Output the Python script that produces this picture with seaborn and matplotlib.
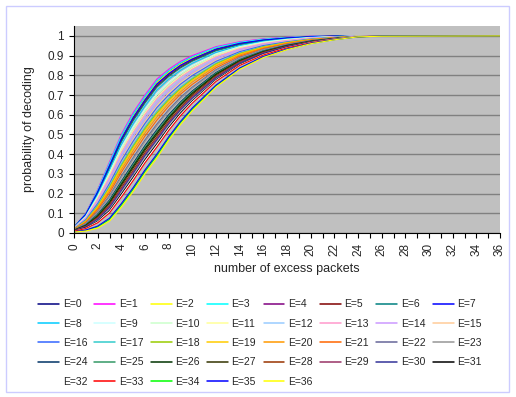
import pandas as pd
import matplotlib
matplotlib.use("Agg")
import matplotlib.pyplot as plt
from matplotlib.patches import Rectangle
import seaborn as sns

# number of excess packets (shared x grid)
excess = [0, 1, 2, 3, 4, 5, 6, 7, 8, 9, 10, 12, 14, 16, 18, 20, 22, 24, 26, 36]

# probability of decoding, one series per E
prob = {
    0:  [.029, .097, .214, .351, .489, .598, .688, .768, .819, .860, .892, .939, .966, .982, .991, .997, .999, 1, 1, 1],
    1:  [.030, .100, .220, .360, .500, .610, .700, .780, .830, .870, .900, .945, .970, .985, .993, .998, 1, 1, 1, 1],
    2:  [.029, .096, .212, .348, .485, .594, .684, .764, .816, .857, .889, .937, .964, .981, .990, .996, .999, 1, 1, 1],
    3:  [.030, .098, .216, .354, .493, .602, .692, .772, .823, .864, .894, .941, .967, .983, .992, .997, 1, 1, 1, 1],
    4:  [.028, .094, .206, .339, .474, .582, .672, .752, .805, .848, .880, .931, .960, .978, .989, .995, .999, 1, 1, 1],
    5:  [.028, .092, .202, .333, .467, .574, .664, .744, .798, .841, .875, .927, .957, .976, .987, .995, .998, 1, 1, 1],
    6:  [.028, .091, .201, .330, .463, .570, .660, .740, .794, .838, .872, .925, .956, .976, .987, .994, .998, 1, 1, 1],
    7:  [.029, .095, .208, .342, .478, .586, .676, .756, .808, .851, .883, .933, .962, .979, .989, .996, .999, 1, 1, 1],
    8:  [.027, .087, .193, .318, .448, .554, .644, .724, .780, .825, .861, .916, .950, .972, .984, .993, .997, .999, 1, 1],
    9:  [.026, .084, .185, .306, .433, .538, .628, .708, .765, .812, .850, .908, .945, .968, .982, .991, .996, .999, 1, 1],
    10: [.025, .082, .181, .300, .426, .530, .620, .700, .758, .806, .844, .904, .942, .966, .980, .990, .996, .999, 1, 1],
    11: [.024, .079, .175, .291, .415, .518, .608, .688, .747, .796, .836, .898, .938, .963, .979, .989, .995, .999, 1, 1],
    12: [.023, .076, .167, .279, .400, .502, .592, .672, .733, .784, .824, .890, .932, .959, .976, .988, .995, .999, 1, 1],
    13: [.024, .078, .171, .285, .408, .510, .600, .680, .740, .790, .830, .894, .935, .961, .977, .989, .995, .999, 1, 1],
    14: [.023, .073, .162, .270, .389, .490, .580, .660, .722, .774, .816, .884, .928, .957, .974, .987, .994, .999, 1, 1],
    15: [.022, .069, .154, .258, .374, .474, .564, .644, .708, .761, .805, .875, .922, .953, .972, .985, .993, .998, 1, 1],
    16: [.021, .068, .150, .252, .367, .466, .556, .636, .700, .755, .799, .871, .920, .951, .970, .984, .993, .998, 1, 1],
    17: [.020, .063, .140, .237, .348, .446, .536, .616, .682, .739, .785, .861, .913, .946, .967, .982, .992, .998, 1, 1],
    18: [.019, .061, .136, .231, .341, .438, .528, .608, .675, .732, .780, .857, .910, .944, .966, .982, .991, .998, 1, 1],
    19: [.019, .060, .132, .225, .334, .430, .520, .600, .668, .726, .774, .853, .907, .942, .965, .981, .991, .998, 1, 1],
    20: [.018, .057, .126, .216, .322, .418, .508, .588, .657, .716, .766, .847, .903, .939, .963, .980, .990, .998, 1, 1],
    21: [.017, .053, .119, .204, .308, .402, .492, .572, .643, .704, .754, .838, .897, .936, .960, .978, .990, .997, 1, 1],
    22: [.016, .049, .109, .189, .289, .382, .472, .552, .625, .688, .740, .828, .890, .931, .957, .976, .989, .997, .999, 1],
    23: [.015, .047, .105, .183, .282, .374, .464, .544, .618, .681, .735, .824, .887, .929, .956, .976, .988, .997, .999, 1],
    24: [.014, .042, .095, .168, .263, .354, .444, .524, .600, .665, .721, .814, .880, .924, .953, .974, .987, .997, .999, 1],
    25: [.014, .041, .091, .162, .256, .346, .436, .516, .592, .659, .715, .810, .878, .922, .951, .973, .987, .997, .999, 1],
    26: [.013, .039, .087, .156, .248, .338, .428, .508, .585, .652, .710, .806, .875, .920, .950, .972, .986, .997, .999, 1],
    27: [.013, .037, .084, .150, .241, .330, .420, .500, .578, .646, .704, .802, .872, .919, .949, .971, .986, .997, .999, 1],
    28: [.012, .034, .078, .141, .230, .318, .408, .488, .567, .636, .696, .795, .868, .916, .947, .970, .985, .996, .999, 1],
    29: [.011, .033, .074, .135, .223, .310, .400, .480, .560, .630, .690, .791, .865, .914, .946, .970, .985, .996, .999, 1],
    30: [.011, .031, .070, .129, .215, .302, .392, .472, .553, .624, .684, .787, .862, .912, .945, .969, .985, .996, .999, 1],
    31: [.010, .026, .060, .114, .197, .282, .372, .452, .535, .608, .670, .777, .855, .907, .941, .967, .984, .996, .999, 1],
    32: [.009, .024, .056, .108, .189, .274, .364, .444, .528, .601, .665, .773, .852, .905, .940, .966, .984, .999, 1, 1],
    33: [.009, .023, .052, .102, .182, .266, .356, .436, .520, .595, .659, .769, .850, .903, .939, .965, .983, .996, .999, 1],
    34: [.006, .013, .031, .069, .141, .222, .312, .392, .481, .560, .628, .746, .834, .893, .932, .961, .981, .995, .999, 1],
    35: [.006, .015, .035, .075, .149, .230, .320, .400, .488, .566, .634, .750, .837, .895, .933, .962, .981, .995, .999, 1],
    36: [.005, .010, .025, .060, .130, .210, .300, .380, .470, .550, .620, .740, .830, .890, .930, .960, .980, .995, .998, 1],
}

# old Excel chart line palette
colors = ["#000080", "#FF00FF", "#FFFF00", "#00FFFF", "#800080", "#800000", "#008080", "#0000FF",
          "#00CCFF", "#CCFFFF", "#CCFFCC", "#FFFF99", "#99CCFF", "#FF99CC", "#CC99FF", "#FFCC99",
          "#3366FF", "#33CCCC", "#99CC00", "#FFCC00", "#FF9900", "#FF6600", "#666699", "#969696",
          "#003366", "#339966", "#003300", "#333300", "#993300", "#993366", "#333399", "#000000",
          "#FFFFFF", "#FF0000", "#00FF00", "#0000FF", "#FFFF00"]

rows = []
for e, vals in prob.items():
    for x, p in zip(excess, vals):
        rows.append({"series": f"E={e}", "x": x, "p": p})
df = pd.DataFrame(rows)

sns.set_style("white")
plt.rcParams["font.family"] = ["Liberation Sans", "DejaVu Sans"]

fig = plt.figure(figsize=(5.16, 3.97), dpi=100)
ax = fig.add_axes([74 / 516, 1 - 233 / 397, 426 / 516, 207 / 397])
ax.set_facecolor("#C0C0C0")

sns.lineplot(data=df, x="x", y="p", hue="series", palette=colors, linewidth=0.8,
             ax=ax, legend=True, sort=True, errorbar=None)

ax.set_xlim(0, 36)
ax.set_ylim(0, 1.05)
ax.set_yticks([i / 10 for i in range(11)])
ax.set_yticklabels(["0"] + [f"0.{i}" for i in range(1, 10)] + ["1"], fontsize=8.5)
ax.set_xticks(range(0, 37, 2))
ax.set_xticks(range(0, 37), minor=True)
ax.set_xticklabels([str(i) for i in range(0, 37, 2)], rotation=90, fontsize=8.5)
ax.tick_params(axis="both", which="both", direction="out", length=3.6, width=0.8, color="black", pad=3.6)
ax.tick_params(axis="x", which="both", bottom=True)
ax.tick_params(axis="y", left=True)
ax.yaxis.grid(True, color="#808080", linewidth=1)
ax.xaxis.grid(False)
ax.set_axisbelow(True)
for side in ["top", "right"]:
    ax.spines[side].set_visible(False)
for side in ["left", "bottom"]:
    ax.spines[side].set_color("black")
    ax.spines[side].set_linewidth(0.8)

ax.set_xlabel("number of excess packets", fontsize=9)
ax.set_ylabel("probability of decoding", fontsize=9)
ax.xaxis.set_label_coords(0.5, -0.145)
ax.yaxis.set_label_coords(-0.092, 0.5)

# legend filled row by row, 8 columns
handles, labels = ax.get_legend_handles_labels()
ax.get_legend().remove()
ncol, nrow = 8, 5
order = [r * ncol + c for c in range(ncol) for r in range(nrow) if r * ncol + c < len(labels)]
leg = fig.legend([handles[i] for i in order], [labels[i] for i in order], ncol=ncol, loc="upper left",
                 bbox_to_anchor=(34 / 516, 1 - 295 / 397), frameon=False, fontsize=7.5,
                 handlelength=2.0, handletextpad=0.35, columnspacing=0.70, labelspacing=0.9,
                 borderaxespad=0)
for line in leg.get_lines():
    line.set_linewidth(1.1)

fig.patches.append(Rectangle((5.5 / 516, 1 - 391.5 / 397), 503.5 / 516, 386 / 397,
                             transform=fig.transFigure, fill=False, edgecolor="#CCCCFF", linewidth=1))

fig.savefig("out.png", dpi=100)
